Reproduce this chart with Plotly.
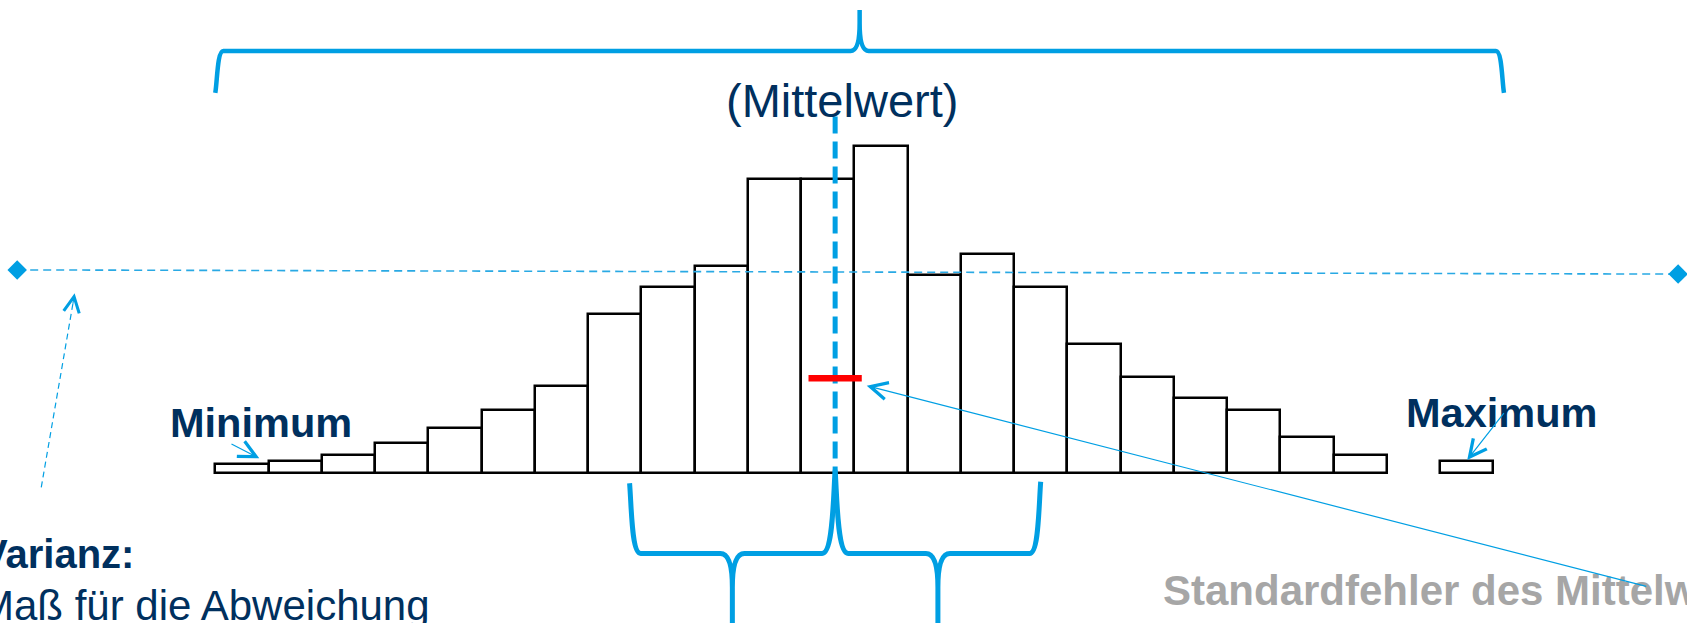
import plotly.graph_objects as go

W, H = 1687, 623

# Histogram: 24 equal-width bins (bin 23 is empty)
bin_left = list(range(24))
counts = [3, 4, 6, 10, 15, 21, 29, 53, 62, 69, 98, 98, 109,
          66, 73, 62, 43, 32, 25, 21, 12, 6, None, 4]

# Summary statistics in bin units
mean_x = 11.64
sd_x = 3.86
range_x = [0.0, 24.2]
se_half = 0.5
se_y = 31.7

# Reference line for the variance (two end points)
variance_x = [-3.72, 27.47]
variance_y = [67.8, 66.4]

# Axis ranges (data units)
X_RANGE = [-4.043, 27.637]
Y_RANGE = [-49.9, 157.77]
ux = (X_RANGE[1] - X_RANGE[0]) / W   # data units per pixel
uy = (Y_RANGE[1] - Y_RANGE[0]) / H

BLUE = "#009FE3"
BLUE_LIGHT = "#29A9E4"
NAVY = "#00305E"
GREY = "#A6A6A6"
FONT = "Liberation Sans, Arial, sans-serif"


def brace(x0, x1, y_end0, y_end1, y_h, y_tip, xm=None,
          corner0=(8, 12), corner1=(8, 12), cusp=(10, 30)):
    """Curly brace path; corner/cusp sizes are given in pixels."""
    s = 1 if y_tip > y_h else -1
    xm = (x0 + x1) / 2 if xm is None else xm
    c0x, c0y = corner0[0] * ux, corner0[1] * uy
    c1x, c1y = corner1[0] * ux, corner1[1] * uy
    mx, my = cusp[0] * ux, cusp[1] * uy
    lean = 2 * ux
    f = lambda a, b: f"{a:.4f},{b:.4f}"
    return " ".join([
        "M" + f(x0, y_end0),
        "C" + f(x0 + lean, y_h - s * c0y) + " " + f(x0 + lean, y_h) + " " + f(x0 + c0x, y_h),
        "L" + f(xm - mx, y_h),
        "Q" + f(xm, y_h) + " " + f(xm, y_h + s * my),
        "L" + f(xm, y_tip),
        "L" + f(xm, y_h + s * my),
        "Q" + f(xm, y_h) + " " + f(xm + mx, y_h),
        "L" + f(x1 - c1x, y_h),
        "C" + f(x1 - lean, y_h) + " " + f(x1 - lean, y_h - s * c1y) + " " + f(x1, y_end1),
    ])


fig = go.Figure()

fig.add_trace(go.Bar(
    x=[b + 0.5 for b in bin_left], y=counts, width=1,
    marker=dict(color="white", line=dict(color="black", width=2.5)),
    hoverinfo="skip",
))

fig.add_trace(go.Scatter(
    x=variance_x, y=variance_y, mode="lines+markers",
    line=dict(color=BLUE_LIGHT, width=1.6, dash="8px,5px"),
    marker=dict(symbol="diamond", size=15, color=BLUE),
    hoverinfo="skip",
))

shapes = []
# range brace above the histogram
shapes.append(dict(type="path", xref="x", yref="y",
                   path=brace(range_x[0], range_x[1], 126.8, 126.8, 140.8, 154.4,
                              corner0=(8, 30), corner1=(8, 30), cusp=(9, 28)),
                   line=dict(color=BLUE, width=4.5)))
# +/- one standard deviation braces below the histogram
shapes.append(dict(type="path", xref="x", yref="y",
                   path=brace(mean_x - sd_x, mean_x, -3.3, 1.1, -26.7, -60,
                              corner0=(11, 45), corner1=(13, 55), cusp=(12, 34)),
                   line=dict(color=BLUE, width=5)))
shapes.append(dict(type="path", xref="x", yref="y",
                   path=brace(mean_x, mean_x + sd_x, 1.1, -2.8, -26.7, -60,
                              corner0=(13, 55), corner1=(11, 45), cusp=(12, 34)),
                   line=dict(color=BLUE, width=5)))
# mean line
shapes.append(dict(type="line", xref="x", yref="y",
                   x0=mean_x, x1=mean_x, y0=118.9, y1=1.1,
                   line=dict(color=BLUE, width=5, dash="17px,8px")))
# standard error marker
shapes.append(dict(type="line", xref="x", yref="y",
                   x0=mean_x - se_half, x1=mean_x + se_half, y0=se_y, y1=se_y,
                   line=dict(color="#FF0000", width=6.5)))
# dashed pointer to the variance line
shapes.append(dict(type="line", xref="x", yref="y",
                   x0=-3.268, y0=-4.67, x1=-2.65, y1=59.0,
                   line=dict(color=BLUE, width=1.2, dash="6px,4px")))


def px_paper(px, py):
    return px / W, 1 - py / H


annotations = []


def label(text, px, py, size, color=NAVY, bold=False, xanchor="left"):
    x, y = px_paper(px, py)
    annotations.append(dict(
        text=f"<b>{text}</b>" if bold else text,
        xref="paper", yref="paper", x=x, y=y,
        xanchor=xanchor, yanchor="middle", showarrow=False,
        font=dict(family=FONT, size=size, color=color)))


label("(Mittelwert)", 842, 100.5, 47, xanchor="center")
label("Minimum", 168, 422.6, 41.5, bold=True)
label("Maximum", 1404, 413, 41.5, bold=True)
label("Varianz:", -21, 554, 40, bold=True)
label("Maß für die Abweichung", -23, 605, 42)
label("Standardfehler des Mittelwerts", 1161, 590, 42, color=GREY, bold=True)


def arrow(x, y, ax, ay):
    annotations.append(dict(
        text="", x=x, y=y, ax=ax, ay=ay, xref="x", yref="y",
        axref="x", ayref="y", showarrow=True,
        arrowhead=5, arrowsize=2.8, arrowwidth=1.2, arrowcolor=BLUE))


arrow(0.826, 5.0, 0.276, 10.0)          # Minimum
arrow(23.51, 4.43, 24.22, 20.53)        # Maximum
arrow(12.233, 29.2, 26.9, -37.8)        # standard error
# head of the dashed variance pointer
annotations.append(dict(
    text="", x=-2.642, y=60.0, ax=-2, ay=12, xref="x", yref="y",
    showarrow=True, arrowhead=5, arrowsize=2.8, arrowwidth=1.1, arrowcolor=BLUE))

fig.update_layout(
    width=W, height=H,
    margin=dict(l=0, r=0, t=0, b=0),
    paper_bgcolor="white", plot_bgcolor="white",
    showlegend=False,
    xaxis=dict(range=X_RANGE, visible=False, fixedrange=True),
    yaxis=dict(range=Y_RANGE, visible=False, fixedrange=True),
    shapes=shapes, annotations=annotations,
    bargap=0,
)

fig.write_html("out.html")
